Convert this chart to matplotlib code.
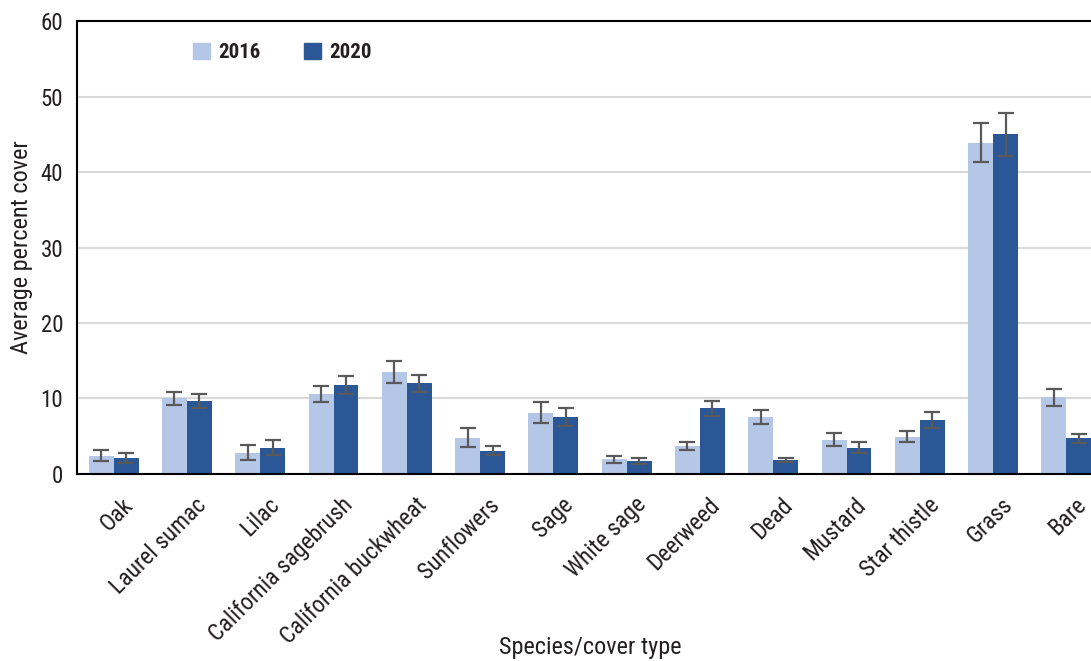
import numpy as np
import matplotlib
matplotlib.use("Agg")
import matplotlib.pyplot as plt
import matplotlib.transforms as mtransforms
from matplotlib.patches import Patch

plt.rcParams["font.family"] = ["Roboto Condensed", "Archivo Narrow",
                               "Liberation Sans Narrow", "DejaVu Sans"]

categories = ["Oak", "Laurel sumac", "Lilac", "California sagebrush",
              "California buckwheat", "Sunflowers", "Sage", "White sage",
              "Deerweed", "Dead", "Mustard", "Star thistle", "Grass", "Bare"]
cover_2016 = [2.4, 10.0, 2.8, 10.6, 13.5, 4.8, 8.1, 1.95, 3.7, 7.55, 4.55, 4.95, 43.9, 10.15]
err_2016 = [0.75, 0.9, 1.0, 1.1, 1.5, 1.25, 1.4, 0.45, 0.55, 0.95, 0.85, 0.75, 2.55, 1.1]
cover_2020 = [2.1, 9.7, 3.5, 11.75, 12.0, 3.1, 7.5, 1.7, 8.7, 1.85, 3.5, 7.15, 45.0, 4.7]
err_2020 = [0.7, 0.9, 1.0, 1.2, 1.1, 0.6, 1.2, 0.35, 1.0, 0.27, 0.7, 1.1, 2.85, 0.65]

light = "#b4c7e7"
dark = "#2b5797"
txt = "#231f20"

fig = plt.figure(figsize=(10.91, 6.61), dpi=100)
ax = fig.add_axes([0.0706, 0.283, 0.9404, 0.685])

x = np.arange(len(categories))
w = 0.34
ekw = dict(ecolor="#595959", elinewidth=1.6, capsize=5.5, capthick=1.6)
ax.bar(x - w / 2, cover_2016, w, color=light, yerr=err_2016, error_kw=ekw, zorder=2)
ax.bar(x + w / 2, cover_2020, w, color=dark, yerr=err_2020, error_kw=ekw, zorder=2)

ax.set_xlim(-0.5, len(categories) - 0.5)
ax.set_ylim(0, 60)
ax.set_yticks(range(0, 61, 10))
ax.yaxis.grid(True, color="#d9d9d9", linewidth=1.5, zorder=0)
ax.set_axisbelow(True)
ax.set_xticks(x)
ax.set_xticklabels(categories, rotation=45, ha="right", rotation_mode="anchor")
ax.tick_params(length=0, labelcolor=txt)
ax.tick_params(axis="x", pad=14, labelsize=17)
ax.tick_params(axis="y", pad=10, labelsize=16.5)
# slanted category labels sit a little right of the bar pair centre
shift = mtransforms.ScaledTranslation(8 / 100, 0, fig.dpi_scale_trans)
for lab in ax.get_xticklabels():
    lab.set_transform(lab.get_transform() + shift)
for side in ("left", "bottom", "top"):
    ax.spines[side].set_color("black")
    ax.spines[side].set_linewidth(1.5)
ax.spines["right"].set_visible(False)

ax.set_ylabel("Average percent cover", fontsize=17.5, color=txt)
ax.yaxis.set_label_coords(-0.043, 0.5)
ax.set_xlabel("Species/cover type", fontsize=17.5, color=txt)
ax.xaxis.set_label_coords(0.5, -0.358)

handles = [Patch(color=light, label="2016"), Patch(color=dark, label="2020")]
ax.legend(handles=handles, loc="center left", bbox_to_anchor=(0.095, 0.930),
          ncol=2, frameon=False, handlelength=0.8, handleheight=0.8,
          handletextpad=0.4, columnspacing=2.1,
          prop=dict(weight="bold", size=15), labelcolor=txt)

fig.savefig("out.png", dpi=100)
